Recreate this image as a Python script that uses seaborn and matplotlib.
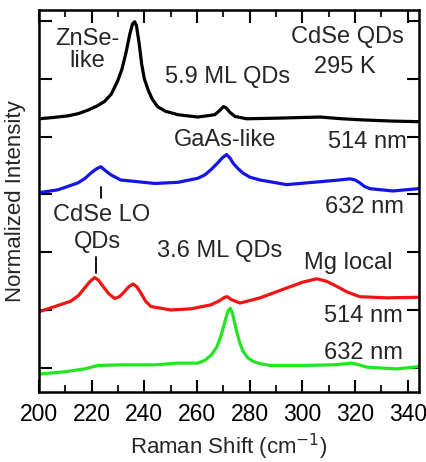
import matplotlib
matplotlib.use("Agg")
import matplotlib.pyplot as plt
import seaborn as sns
import pandas as pd
from matplotlib.ticker import MultipleLocator

# ---- data ----
black_x = [200, 205, 211, 215, 218.6, 222, 224.9, 227.5, 230, 231.5, 233, 234.5, 235.5, 236.3, 237, 238, 239, 240, 241.5, 243, 245, 248, 252.8, 260.3, 266.7, 268.5, 270, 271, 272.5, 274.4, 278.8, 290, 306.6, 315, 323, 334, 344]
black_y = [4.31, 4.33, 4.36, 4.40, 4.46, 4.53, 4.61, 4.74, 4.98, 5.17, 5.45, 5.78, 5.95, 5.99, 5.92, 5.62, 5.25, 5.00, 4.80, 4.65, 4.52, 4.44, 4.38, 4.34, 4.38, 4.45, 4.52, 4.50, 4.42, 4.35, 4.31, 4.32, 4.34, 4.31, 4.29, 4.27, 4.26]

blue_x = [200, 207.2, 214.8, 217.5, 219.7, 221.7, 223.5, 225, 227.3, 231, 237.6, 243.9, 252.8, 260.3, 263, 265.3, 267.5, 269.5, 271.2, 272.5, 273.7, 275.5, 277.4, 280, 283.9, 294, 306.6, 314, 318, 320, 321.8, 323.5, 325.6, 334.3, 344]
blue_y = [3.03, 3.08, 3.20, 3.28, 3.37, 3.44, 3.48, 3.42, 3.34, 3.25, 3.22, 3.19, 3.21, 3.28, 3.34, 3.43, 3.53, 3.63, 3.69, 3.63, 3.54, 3.45, 3.37, 3.30, 3.25, 3.17, 3.22, 3.25, 3.27, 3.25, 3.20, 3.14, 3.10, 3.06, 3.10]

red_x = [200, 206, 212, 215, 217.3, 219.5, 221.1, 222.5, 224.3, 226.5, 228.7, 230.5, 231.9, 234, 235.7, 237.2, 238.7, 240.5, 242.5, 250.1, 257.7, 265.3, 268.5, 270.5, 271.5, 273, 276.3, 283.9, 294, 300, 305.4, 309, 313, 317, 321.8, 332, 344]
red_y = [0.97, 1.06, 1.15, 1.25, 1.38, 1.50, 1.56, 1.52, 1.41, 1.28, 1.20, 1.23, 1.29, 1.40, 1.45, 1.40, 1.29, 1.15, 1.06, 1.00, 1.02, 1.09, 1.16, 1.22, 1.23, 1.18, 1.12, 1.21, 1.38, 1.48, 1.54, 1.50, 1.41, 1.31, 1.23, 1.21, 1.22]

green_x = [200, 209.7, 217.3, 222.4, 231.1, 243.9, 252.8, 260.3, 263, 265.4, 267.5, 269.2, 270.7, 271.7, 272.6, 273.5, 275, 276.3, 277.5, 279.3, 281.3, 284, 287.7, 300.3, 311.7, 318.7, 321.5, 324.4, 335.8, 344]
green_y = [-0.11, -0.07, -0.02, 0.04, 0.05, 0.05, 0.08, 0.08, 0.13, 0.22, 0.36, 0.57, 0.82, 0.98, 1.03, 0.93, 0.63, 0.42, 0.28, 0.17, 0.11, 0.07, 0.04, 0.04, 0.05, 0.08, 0.05, 0.01, -0.02, 0.02]

series_names = ["5.9 ML 514", "5.9 ML 632", "3.6 ML 514", "3.6 ML 632"]
series_colors = ["black", "#1414e6", "#f01414", "#22e622"]

x_ticks = [200, 220, 240, 260, 280, 300, 320, 340]

frames = []
for name, xs, ys in zip(series_names, [black_x, blue_x, red_x, green_x], [black_y, blue_y, red_y, green_y]):
    frames.append(pd.DataFrame({"x": xs, "y": ys, "s": name}))
df = pd.concat(frames, ignore_index=True)

sns.set_style("ticks")
plt.rcParams['font.family'] = ['Liberation Sans', 'DejaVu Sans']

fig = plt.figure(figsize=(4.27, 4.62), dpi=100)
ax = fig.add_axes([0.0913, 0.1515, 0.8897, 0.8265])

sns.lineplot(data=df, x="x", y="y", hue="s", palette=dict(zip(series_names, series_colors)),
             sort=False, estimator=None, linewidth=2.3, legend=False, ax=ax)

ax.set_xlim(200, 344.2)
ax.set_ylim(-0.42, 6.19)
ax.set_xticks(x_ticks)
ax.set_xticklabels([str(t) for t in x_ticks], fontsize=16.5)
ax.xaxis.set_minor_locator(MultipleLocator(10))
ax.set_yticks([0, 1, 2, 3, 4, 5, 6])
ax.set_yticklabels([])
ax.tick_params(axis='both', which='major', direction='in', length=9, width=1.5,
               top=True, right=True, bottom=True, left=True, pad=8, colors='black')
ax.tick_params(axis='both', which='minor', direction='in', length=5, width=1.5,
               top=True, bottom=True)
for sp in ax.spines.values():
    sp.set_linewidth(1.8)
    sp.set_color('black')

ax.set_xlabel("Raman Shift (cm$^{-1}$)", fontsize=16, labelpad=4)
ax.set_ylabel("Normalized Intensity", fontsize=16, labelpad=1)

fs = 17
ax.text(218.2, 5.50, "ZnSe-\nlike", ha='center', va='center', fontsize=fs, linespacing=1.05)
ax.text(271.7, 5.03, "5.9 ML QDs", ha='center', va='center', fontsize=fs)
ax.text(316.9, 5.73, "CdSe QDs", ha='center', va='center', fontsize=fs)
ax.text(316.1, 5.21, "295 K", ha='center', va='center', fontsize=fs)
ax.text(270.6, 3.94, "GaAs-like", ha='center', va='center', fontsize=fs)
ax.text(324.5, 3.91, "514 nm", ha='center', va='center', fontsize=fs)
ax.text(323.7, 2.79, "632 nm", ha='center', va='center', fontsize=fs)
ax.text(223.9, 2.65, "CdSe LO", ha='center', va='center', fontsize=fs)
ax.text(222.0, 2.18, "QDs", ha='center', va='center', fontsize=fs)
ax.text(268.7, 2.02, "3.6 ML QDs", ha='center', va='center', fontsize=fs)
ax.text(317.3, 1.81, "Mg local", ha='center', va='center', fontsize=fs)
ax.text(323.0, 0.90, "514 nm", ha='center', va='center', fontsize=fs)
ax.text(323.0, 0.26, "632 nm", ha='center', va='center', fontsize=fs)

ax.plot([223.5, 223.5], [3.13, 2.94], color='black', linewidth=1.3)
ax.plot([221.5, 221.5], [1.92, 1.64], color='black', linewidth=1.3)

fig.savefig("out.png", dpi=100)
